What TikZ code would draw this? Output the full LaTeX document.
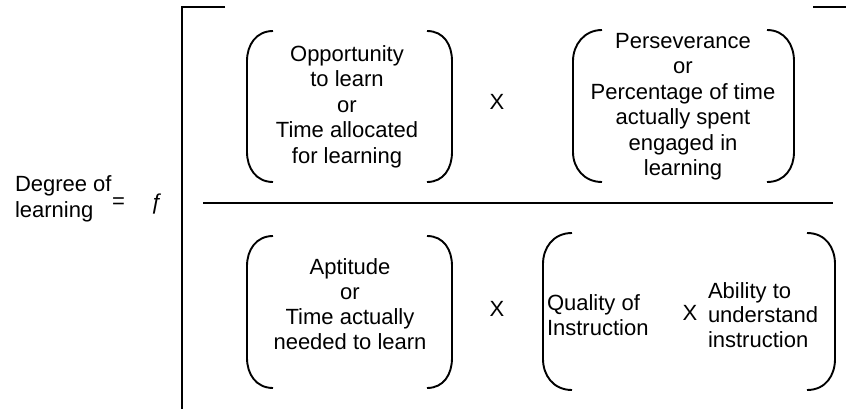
\documentclass[tikz,border=0pt]{standalone}
\usepackage{fontspec}
\setmainfont{Liberation Sans}
\begin{document}
\begin{tikzpicture}[x=1pt,y=-1pt,
  txt/.style={inner sep=0pt,outer sep=0pt,font=\fontsize{22}{25.5}\selectfont},
  blk/.style={txt,align=center},
  lblk/.style={txt,align=left},
  ln/.style={line width=2pt},
  par/.style={line width=1.9pt}]
\useasboundingbox (0,0) rectangle (846,408);
% bracket and fraction bar
\coordinate (bt) at (225,7);
\coordinate (bc) at (182,7);
\coordinate (bb) at (182,409);
\coordinate (rt1) at (813,7);
\coordinate (rt2) at (847,7);
\coordinate (fl) at (203,203);
\coordinate (fr) at (833,203);
\draw[ln] (bt) -- (bc) -- (bb);
\draw[ln] (rt1) -- (rt2);
\draw[ln] (fl) -- (fr);
% left side
\node[lblk,anchor=west] (deg) at (15,199) {Degree of\\learning};
\node[txt] (eq) at (118.5,203) {=};
\node[txt] (fn) at (157,204) {ƒ};
% upper left
\draw[par] (273,31) .. controls (256,31) and (247,45) .. (247,61) -- (247,152) .. controls (247,168) and (256,182) .. (273,182);
\draw[par] (427,31) .. controls (444,31) and (452,45) .. (452,61) -- (452,152) .. controls (452,168) and (444,182) .. (427,182);
\node[blk] (ul) at (347,106.5) {Opportunity\\to learn\\or\\Time allocated\\for learning};
\node[txt] (x1) at (497,102) {X};
% upper right
\draw[par] (602,30) .. controls (584,30) and (573,45) .. (573,61) -- (573,152) .. controls (573,168) and (584,182) .. (602,182);
\draw[par] (767,30) .. controls (785,30) and (794,45) .. (794,61) -- (794,152) .. controls (794,168) and (785,182) .. (767,182);
\node[blk] (ur) at (683,106.5) {Perseverance\\or\\Percentage of time\\actually spent\\engaged in\\learning};
% lower left
\draw[par] (273,236) .. controls (256,236) and (247,250) .. (247,266) -- (247,358) .. controls (247,374) and (256,388) .. (273,388);
\draw[par] (427,236) .. controls (444,236) and (452,250) .. (452,266) -- (452,358) .. controls (452,374) and (444,388) .. (427,388);
\node[blk,font=\fontsize{22}{25}\selectfont] (ll) at (350,304.5) {Aptitude\\or\\Time actually\\needed to learn};
\node[txt] (x2) at (497,309) {X};
% lower right
\draw[par] (572,233) .. controls (553,233) and (543,248) .. (543,264) -- (543,359) .. controls (543,375) and (553,390) .. (572,390);
\draw[par] (807,233) .. controls (826,233) and (835,248) .. (835,264) -- (835,359) .. controls (835,375) and (826,390) .. (807,390);
\node[lblk,anchor=west,font=\fontsize{22}{25}\selectfont] (qi) at (547,315) {Quality of\\Instruction};
\node[txt] (x3) at (690,313) {X};
\node[lblk,anchor=west,font=\fontsize{22}{24.5}\selectfont] (ab) at (708,315) {Ability to\\understand\\instruction};
\end{tikzpicture}
\end{document}
